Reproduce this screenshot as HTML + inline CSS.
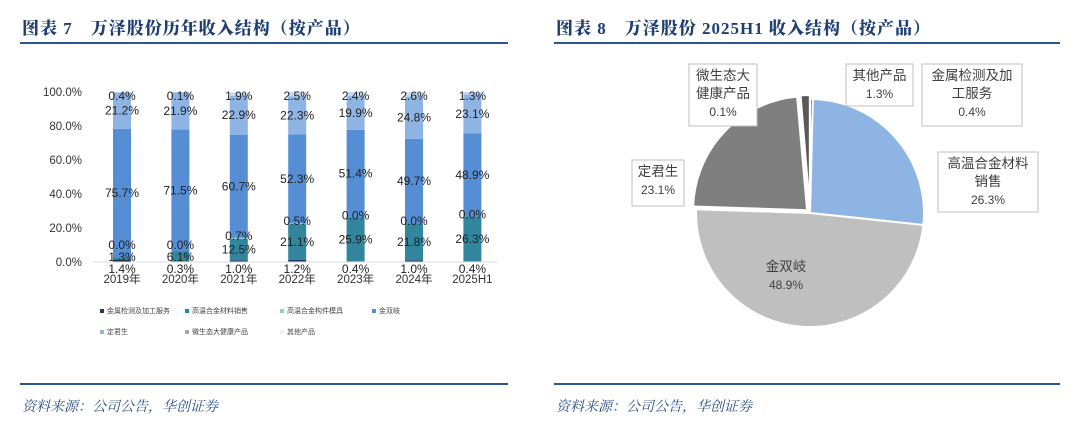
<!DOCTYPE html>
<html><head><meta charset="utf-8"><style>
body{margin:0;background:#fff;width:1080px;height:425px;overflow:hidden;font-family:"Liberation Sans","Noto Sans CJK SC",sans-serif}
.t{position:absolute;font-family:"Liberation Serif","Noto Serif CJK SC",serif;font-weight:900;color:#1f3f73;font-size:17px;letter-spacing:1px}
.s{position:absolute;font-family:"Liberation Serif","Noto Serif CJK SC",serif;font-style:italic;color:#2b4f88;font-size:14px}
.ln{position:absolute;height:2px;background:#2b5797}
</style></head><body>
<div class="t" style="left:22px;top:14px">图表 7　万泽股份历年收入结构（按产品）</div>
<div class="ln" style="left:20px;top:42px;width:488px"></div>
<div class="t" style="left:556px;top:14px">图表 8　万泽股份 2025H1 收入结构（按产品）</div>
<div class="ln" style="left:554px;top:42px;width:506px"></div>
<div class="ln" style="left:20px;top:383px;width:488px"></div>
<div class="ln" style="left:554px;top:383px;width:506px"></div>
<div class="s" style="left:22px;top:396px">资料来源：公司公告，华创证券</div>
<div class="s" style="left:556px;top:396px">资料来源：公司公告，华创证券</div>
<svg id="bar" width="540" height="380" style="position:absolute;left:0;top:0"></svg>
<svg id="pie" width="540" height="380" style="position:absolute;left:540px;top:0"></svg>
<script>
const categories=["2019年","2020年","2021年","2022年","2023年","2024年","2025H1"];
const sTesting=[1.4,0.3,1.0,1.2,0.4,1.0,0.4];
const sAlloy=[1.3,6.1,12.5,21.1,25.9,21.8,26.3];
const sParts=[0.0,0.0,0.7,0.5,0.0,0.0,0.0];
const sJSQ=[75.7,71.5,60.7,52.3,51.4,49.7,48.9];
const sDJS=[21.2,21.9,22.9,22.3,19.9,24.8,23.1];
const sOther=[0.4,0.1,1.9,2.5,2.4,2.6,1.3];
const yTicks=[0,20,40,60,80,100];
const seriesNames=["金属检测及加工服务","高温合金材料销售","高温合金构件模具","金双岐","定君生","微生态大健康产品","其他产品"];
const pieNames=["金属检测及加工服务","高温合金材料销售","金双岐","定君生","微生态大健康产品","其他产品"];
const pieValues=[0.4,26.3,48.9,23.1,0.1,1.3];
const NS="http://www.w3.org/2000/svg";
function mk(p,t,a){const e=document.createElementNS(NS,t);for(const k in a)e.setAttribute(k,a[k]);p.appendChild(e);return e;}
const bar=document.getElementById('bar');
const y=v=>262-v*1.7, x=i=>122+i*58.4;
yTicks.forEach(v=>{const t=mk(bar,'text',{x:82,y:y(v)+4,'text-anchor':'end','font-size':11.5,fill:'#333'});t.textContent=v.toFixed(1)+'%';

});
const colors=["#1f3864","#31859c","#92cddc","#558ed5","#8eb4e3","#a6a6a6","#f2f2f2"];
const series=[sTesting,sAlloy,sParts,sJSQ,sDJS,sOther];
const scol=[colors[0],colors[1],colors[2],colors[3],colors[4],colors[6]];
categories.forEach((c,i)=>{let acc=0;
series.forEach((s,k)=>{const v=s[i];const r=mk(bar,'rect',{x:x(i)-9,y:y(acc+v),width:18,height:v*1.7,fill:k==5?'#c6d9f1':scol[k]});


acc+=v;});
const t=mk(bar,'text',{x:x(i),y:283,'text-anchor':'middle','font-size':11.5,fill:'#333'});t.textContent=c;


});
mk(bar,'line',{x1:93,x2:497,y1:262,y2:262,stroke:'#d9d9d9','stroke-width':1});
categories.forEach((c,i)=>{
let acc=0;
const pos=[];
series.forEach((s,k)=>{pos.push(acc+s[i]/2);acc+=s[i];});
const ys=[269,0,0,y(pos[3]),y(pos[4]),96];
ys[1]=Math.max(Math.min(y(pos[1]),257),y(sTesting[i]+sAlloy[i])+6);
if(sAlloy[i]<10)ys[1]=257;
ys[2]=Math.min(ys[1]-12,y(sTesting[i]+sAlloy[i]+sParts[i])-2);
series.forEach((s,k)=>{const t=mk(bar,'text',{x:x(i),y:ys[k]+4,'text-anchor':'middle','font-size':12,fill:'#222'});t.textContent=s[i].toFixed(1)+'%';

});
});
const leg=[[100,313],[185,313],[280,313],[372,313],[100,334],[185,334],[280,334]];
seriesNames.forEach((n,k)=>{const g=mk(bar,'g',{});


mk(g,'rect',{x:leg[k][0],y:leg[k][1]-4,width:4,height:4,fill:colors[k]});
const t=mk(g,'text',{x:leg[k][0]+7,y:leg[k][1],'font-size':7,fill:'#444'});t.textContent=n;});
const pie=document.getElementById('pie');
const cx=270,cy=213,R=114;
const pcol=["#595959","#8eb4e3","#bfbfbf","#7f7f7f","#595959","#595959"];
let a0=0;const tot=pieValues.reduce((a,b)=>a+b,0);
pieValues.forEach((v,k)=>{const a1=a0+v/tot*2*Math.PI;
const off=(k>=3)?4:0,mid=(a0+a1)/2;const ox=cx+off*Math.sin(mid),oy=cy-off*Math.cos(mid);
const p=mk(pie,'path',{d:`M${ox},${oy}L${ox+R*Math.sin(a0)},${oy-R*Math.cos(a0)}A${R},${R} 0 ${a1-a0>Math.PI?1:0} 1 ${ox+R*Math.sin(a1)},${oy-R*Math.cos(a1)}Z`,fill:pcol[k],stroke:'#fff','stroke-width':2});


a0=a1;});
const boxText=[["金属检测及加","工服务"],["高温合金材料","销售"],["金双岐"],["定君生"],["微生态大","健康产品"],["其他产品"]];
[[0,[382,64,100,62]],[1,[398,152,100,60]],[2,[215,255,62,46]],[3,[92,160,52,46]],[4,[149,64,68,62]],[5,[306,64,67,42]]].forEach(([k,b])=>{
const g=mk(pie,'g',{});


if(k!=2)mk(g,'rect',{x:b[0],y:b[1],width:b[2],height:b[3],fill:'#fff',stroke:'#bfbfbf'});
const lines=boxText[k].concat([pieValues[k].toFixed(1)+'%']);
lines.forEach((l,j)=>{const t=mk(g,'text',{x:b[0]+b[2]/2,y:b[1]+16+j*18,'text-anchor':'middle','font-size':j==lines.length-1?12:13.5,fill:'#404040'});t.textContent=l;});
});
</script>
</body></html>
